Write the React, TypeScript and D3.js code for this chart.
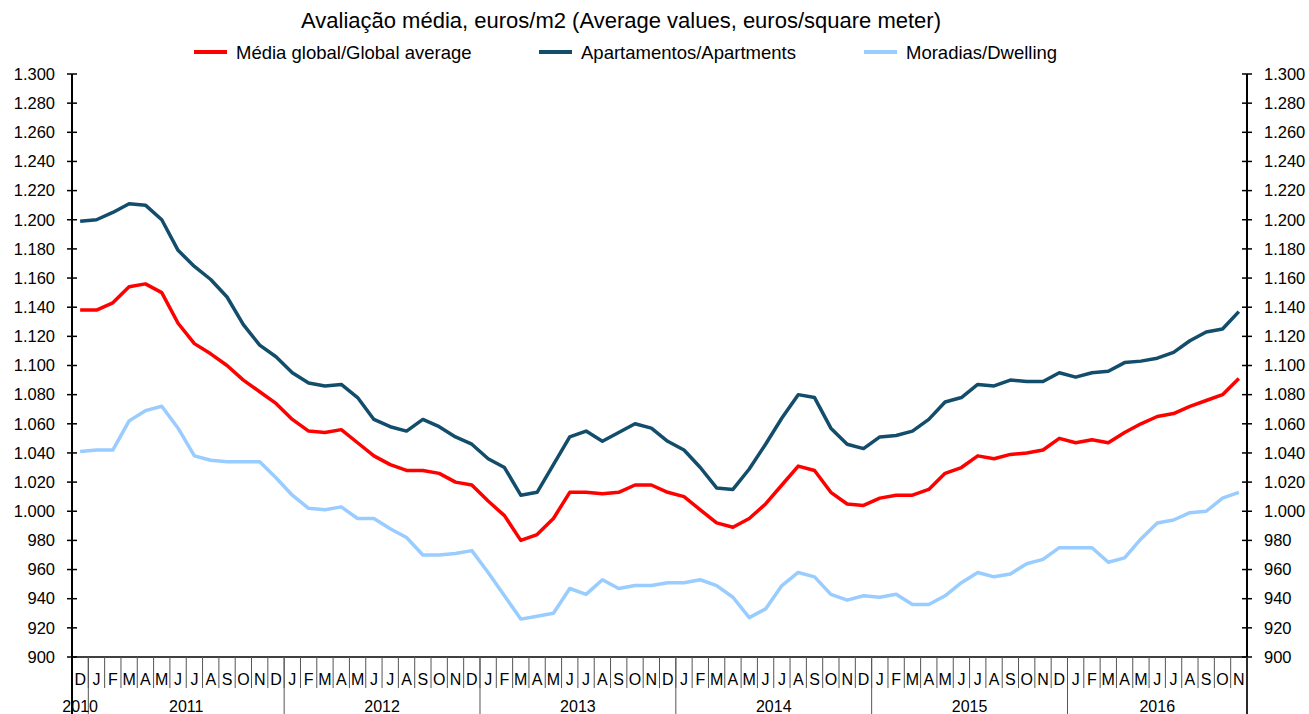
import * as d3 from 'd3'

const years = ['2010', '2011', '2012', '2013', '2014', '2015', '2016']
const monthsInYear = [1, 12, 12, 12, 12, 12, 11]
const monthLetters = ['J', 'F', 'M', 'A', 'M', 'J', 'J', 'A', 'S', 'O', 'N', 'D']

const globalAverage = [
  1138, 1138, 1143, 1154, 1156, 1150, 1129, 1115, 1108, 1100,
  1090, 1082, 1074, 1063, 1055, 1054, 1056, 1047, 1038, 1032,
  1028, 1028, 1026, 1020, 1018, 1007, 997, 980, 984, 995,
  1013, 1013, 1012, 1013, 1018, 1018, 1013, 1010, 1001, 992,
  989, 995, 1005, 1018, 1031, 1028, 1013, 1005, 1004, 1009,
  1011, 1011, 1015, 1026, 1030, 1038, 1036, 1039, 1040, 1042,
  1050, 1047, 1049, 1047, 1054, 1060, 1065, 1067, 1072, 1076,
  1080, 1091,
]
const apartments = [
  1199, 1200, 1205, 1211, 1210, 1200, 1179, 1168, 1159, 1147,
  1128, 1114, 1106, 1095, 1088, 1086, 1087, 1078, 1063, 1058,
  1055, 1063, 1058, 1051, 1046, 1036, 1030, 1011, 1013, 1032,
  1051, 1055, 1048, 1054, 1060, 1057, 1048, 1042, 1030, 1016,
  1015, 1029, 1046, 1064, 1080, 1078, 1057, 1046, 1043, 1051,
  1052, 1055, 1063, 1075, 1078, 1087, 1086, 1090, 1089, 1089,
  1095, 1092, 1095, 1096, 1102, 1103, 1105, 1109, 1117, 1123,
  1125, 1137,
]
const dwellings = [
  1041, 1042, 1042, 1062, 1069, 1072, 1057, 1038, 1035, 1034,
  1034, 1034, 1023, 1011, 1002, 1001, 1003, 995, 995, 988,
  982, 970, 970, 971, 973, 958, 942, 926, 928, 930,
  947, 943, 953, 947, 949, 949, 951, 951, 953, 949,
  941, 927, 933, 949, 958, 955, 943, 939, 942, 941,
  943, 936, 936, 942, 951, 958, 955, 957, 964, 967,
  975, 975, 975, 965, 968, 981, 992, 994, 999, 1000,
  1009, 1013,
]

const yTicks = d3.range(900, 1301, 20)

// month keys like 2010-12, 2011-1 ...
const periods: { key: string; letter: string; year: string }[] = []
years.forEach((yr, yi) => {
  const n = monthsInYear[yi]
  const start = yi === 0 ? 12 - n : 0
  for (let m = start; m < start + n; m++) {
    periods.push({ key: `${yr}-${m + 1}`, letter: monthLetters[m], year: yr })
  }
})

const series = [
  { name: 'Média global/Global average', values: globalAverage, color: '#ff0000' },
  { name: 'Apartamentos/Apartments', values: apartments, color: '#124d6b' },
  { name: 'Moradias/Dwelling', values: dwellings, color: '#99ccff' },
]

const font = '"Liberation Sans", Arial, sans-serif'

export default function App() {
  const width = 1309
  const height = 714
  const left = 72
  const right = 1247
  const top = 74
  const bottom = 657

  const x = d3.scaleBand<string>().domain(periods.map(p => p.key)).range([left, right]).padding(0)
  const y = d3.scaleLinear().domain([900, 1300]).range([bottom, top])
  const cx = (i: number) => (x(periods[i].key) as number) + x.bandwidth() / 2

  const line = d3.line<number>()
    .x((_, i) => cx(i))
    .y(d => y(d))

  // year groups
  const groups: { year: string; x0: number; x1: number }[] = []
  let idx = 0
  years.forEach((yr, yi) => {
    const n = monthsInYear[yi]
    const x0 = x(periods[idx].key) as number
    const x1 = (x(periods[idx + n - 1].key) as number) + x.bandwidth()
    groups.push({ year: yr, x0, x1 })
    idx += n
  })

  const legendX = [194, 539, 864]
  const fmt = (t: number) => d3.format(',')(t).replace(',', '.')

  return (
    <div style={{ position: 'fixed', left: 0, top: 0, background: '#fff' }}>
      <svg width={width} height={height} style={{ display: 'block', fontFamily: font }}>
        <rect width={width} height={height} fill="#fff" />
        <text x={621} y={28} textAnchor="middle" fontSize={22} fill="#000">
          Avaliação média, euros/m2 (Average values, euros/square meter)
        </text>

        {series.map((s, i) => (
          <g key={s.name} transform={`translate(${legendX[i]},52)`}>
            <line x1={0} x2={33} y1={0} y2={0} stroke={s.color} strokeWidth={4} />
            <text x={42} y={6.5} fontSize={18.5} fill="#000">
              {s.name}
            </text>
          </g>
        ))}

        {/* axes */}
        <line x1={left} x2={left} y1={top} y2={height} stroke="#000" strokeWidth={2} />
        <line x1={right} x2={right} y1={top} y2={height} stroke="#000" strokeWidth={2} />
        <line x1={left} x2={right} y1={bottom} y2={bottom} stroke="#000" strokeWidth={1.5} />
        {yTicks.map(t => (
          <g key={t}>
            <line x1={left - 5} x2={left + 5} y1={y(t)} y2={y(t)} stroke="#000" strokeWidth={1.5} />
            <line x1={right - 5} x2={right + 5} y1={y(t)} y2={y(t)} stroke="#000" strokeWidth={1.5} />
            <text x={55} y={y(t)} dy="0.35em" textAnchor="end" fontSize={16.5}>
              {fmt(t)}
            </text>
            <text x={1264} y={y(t)} dy="0.35em" textAnchor="start" fontSize={16.5}>
              {fmt(t)}
            </text>
          </g>
        ))}

        {/* month separators and labels */}
        {periods.map((p, i) => (
          <g key={p.key}>
            {i > 0 && (
              <line x1={x(p.key)} x2={x(p.key)} y1={bottom} y2={688} stroke="#555" strokeWidth={1} />
            )}
            <text x={cx(i)} y={685} textAnchor="middle" fontSize={16}>
              {p.letter}
            </text>
          </g>
        ))}
        {groups.map(g => (
          <g key={g.year}>
            <line x1={g.x1} x2={g.x1} y1={bottom} y2={height} stroke="#555" strokeWidth={1} />
            <text x={(g.x0 + g.x1) / 2} y={712} textAnchor="middle" fontSize={16}>
              {g.year}
            </text>
          </g>
        ))}

        {/* series lines */}
        {series.map(s => (
          <path key={s.name} d={line(s.values) || ''} fill="none" stroke={s.color} strokeWidth={3.5} strokeLinejoin="round" />
        ))}
      </svg>
    </div>
  )
}
